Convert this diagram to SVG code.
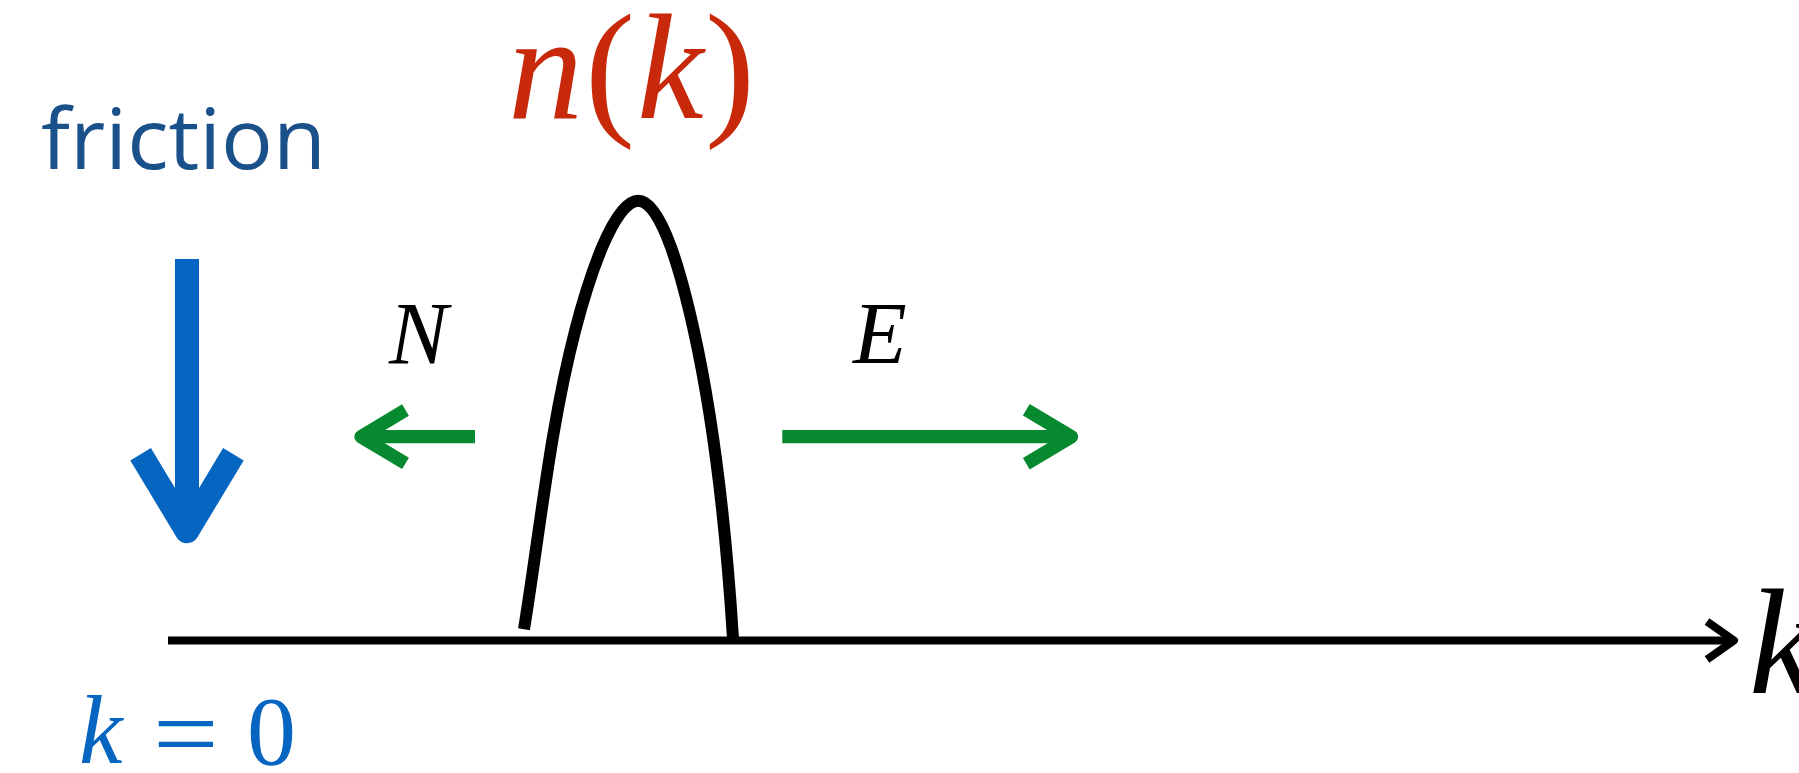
<svg xmlns="http://www.w3.org/2000/svg" width="1799" height="773" viewBox="0 0 1799 773">
<style>
.serif{font-family:"Liberation Serif","Times New Roman",serif;}
.it{font-style:italic;}
.ln{fill:none;stroke-linecap:butt;stroke-linejoin:round;}
</style>
<rect width="1799" height="773" fill="#ffffff"/>
<g id="label-friction">
<text x="41" y="169" font-family="'Open Sans', Lato, sans-serif" font-size="85" fill="#1a518a" textLength="285" lengthAdjust="spacingAndGlyphs">friction</text>
</g>
<g id="label-nk" fill="#c8290a">
<text class="serif it" x="508" y="118" font-family="'Liberation Serif', serif" font-style="italic" font-size="150">n</text>
<text class="serif" x="585" y="118" font-family="'Liberation Serif', serif" font-size="150">(</text>
<text class="serif it" x="637" y="118" font-family="'Liberation Serif', serif" font-style="italic" font-size="150">k</text>
<text class="serif" x="705" y="118" font-family="'Liberation Serif', serif" font-size="150">)</text>
</g>
<g id="label-N"><text class="serif it" x="389" y="363" font-family="'Liberation Serif', serif" font-style="italic" font-size="88" fill="#000">N</text></g>
<g id="label-E"><text class="serif it" x="853" y="363" font-family="'Liberation Serif', serif" font-style="italic" font-size="88" fill="#000">E</text></g>
<g id="label-k0" fill="#0565c0">
<text class="serif it" x="79" y="763" font-family="'Liberation Serif', serif" font-style="italic" font-size="98">k</text>
<text class="serif" transform="translate(157,769) scale(1.12,1)" x="-3.5" y="0" font-family="'Liberation Serif', serif" font-size="104">=</text>
<text class="serif" x="247" y="763.5" font-family="'Liberation Serif', serif" font-size="98">0</text>
</g>
<g id="label-k-axis"><text class="serif it" x="1749" y="693" font-family="'Liberation Serif', serif" font-style="italic" font-size="150" fill="#000">k</text></g>
<g id="distribution">
<path class="ln" stroke="#000" stroke-width="12" d="M524,629.3 C540,530.6 550.1,426.8 575.3,330 C587.9,281.6 613.3,200.7 638.3,200.7 C662.3,200.7 682.85,281.2 693.7,330 C715.4,427.6 726.7,538.5 733,638.3"/>
</g>
<g id="connectors">
<g id="axis" stroke="#000" stroke-width="8" class="ln">
<line x1="168" y1="640.5" x2="1734" y2="640.5"/>
<polyline points="1707,621.5 1734,640.5 1707,659.5"/>
</g>
<g id="friction-arrow" stroke="#0565c0" stroke-width="24" class="ln">
<line x1="187" y1="259" x2="187" y2="531"/>
<polyline points="140.6,454.2 187,531.3 233.4,454.2"/>
</g>
<g id="arrow-N" stroke="#06892f" stroke-width="13.3" class="ln">
<line x1="475" y1="436.7" x2="361" y2="436.7"/>
<polyline points="405.5,410 361,436.7 405.5,463.4"/>
</g>
<g id="arrow-E" stroke="#06892f" stroke-width="13.3" class="ln">
<line x1="782.3" y1="436.7" x2="1071.5" y2="436.7"/>
<polyline points="1026.3,409.7 1071.5,436.7 1026.3,463.7"/>
</g>
</g>
</svg>
